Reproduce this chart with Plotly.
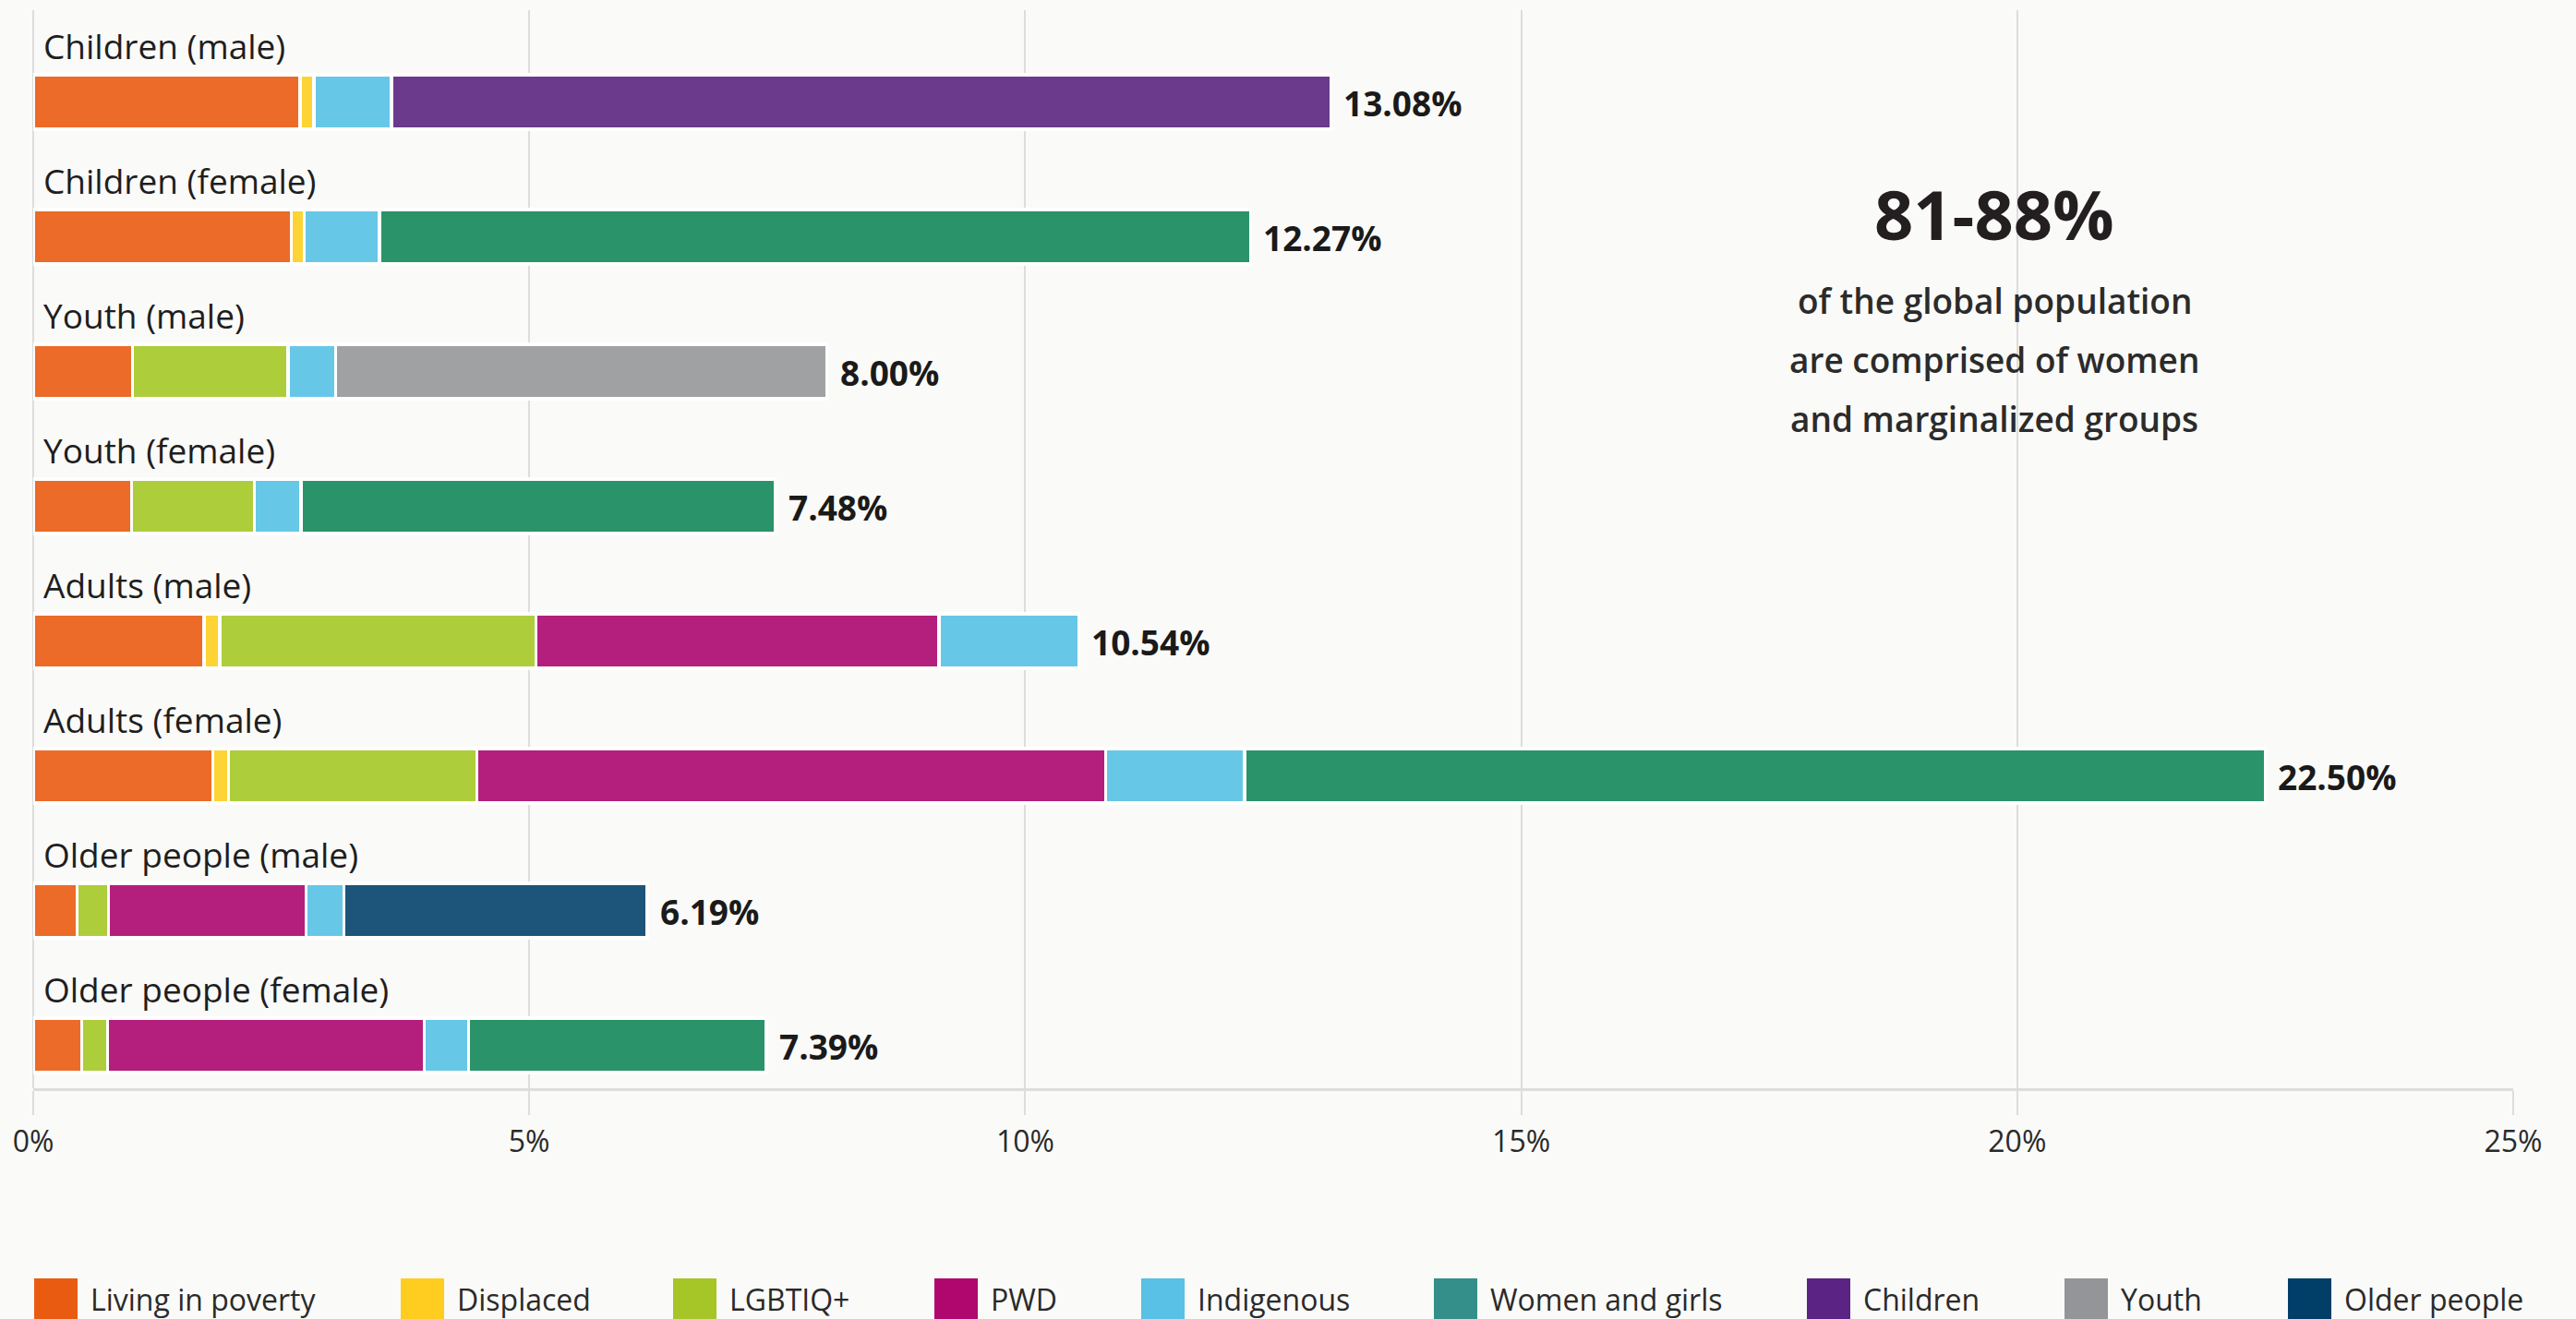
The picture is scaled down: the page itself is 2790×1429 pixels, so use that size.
import plotly.graph_objects as go

# ---------------- data ----------------
categories = ["Children (male)", "Children (female)", "Youth (male)", "Youth (female)",
              "Adults (male)", "Adults (female)", "Older people (male)", "Older people (female)"]

series_names = ["Living in poverty", "Displaced", "LGBTIQ+", "PWD", "Indigenous",
                "Women and girls", "Children", "Youth", "Older people"]

living_in_poverty = [2.69, 2.60, 1.00, 0.99, 1.72, 1.81, 0.44, 0.49]
displaced         = [0.14, 0.13, None, None, 0.16, 0.16, None, None]
lgbtiq            = [None, None, 1.57, 1.24, 3.19, 2.50, 0.32, 0.26]
pwd               = [None, None, None, None, 4.06, 6.34, 1.99, 3.19]
indigenous        = [0.78, 0.76, 0.48, 0.47, 1.41, 1.40, 0.38, 0.45]
women_and_girls   = [None, 8.78, None, 4.78, None, 10.29, None, 3.00]
children          = [9.47, None, None, None, None, None, None, None]
youth             = [None, None, 4.95, None, None, None, None, None]
older_people      = [None, None, None, None, None, None, 3.06, None]

series_values = [living_in_poverty, displaced, lgbtiq, pwd, indigenous,
                 women_and_girls, children, youth, older_people]

x_tick_values = [0, 5, 10, 15, 20, 25]
x_tick_labels = ["0%", "5%", "10%", "15%", "20%", "25%"]

# ---------------- styles ----------------
bar_colors = ["#EC6B28", "#FDD335", "#ADCD3B", "#B41E7C", "#67C7E7",
              "#2A9369", "#6B3A8C", "#A0A1A3", "#1D5479"]
legend_colors = ["#EA5B12", "#FFCD1F", "#A6C526", "#B0076F", "#58C1E5",
                 "#348F8A", "#5B2484", "#949598", "#013F69"]

W, H = 2790, 1429
ML, MR, MT, MB = 36, 68, 11, 250
PW, PH = W - ML - MR, H - MT - MB
BG = "#FAFAF8"
FONT = "Open Sans"


def paper_x(px):
    return (px - ML) / PW


def paper_y(py):
    return (H - MB - py) / PH


fig = go.Figure()

for name, vals, col in zip(series_names, series_values, bar_colors):
    fig.add_trace(go.Bar(
        name=name, y=categories, x=vals, orientation="h",
        marker=dict(color=col, line=dict(color="#FFFFFF", width=3.5)),
        width=0.404, offset=-0.02, showlegend=False,
    ))

annotations = []
band = PH / len(categories)
# category labels above bars
for cat in categories:
    annotations.append(dict(
        x=0, y=cat, xref="x", yref="y", text=cat, showarrow=False,
        xanchor="left", yanchor="middle", xshift=9, yshift=0.226 * band + 2,
        font=dict(family=FONT, size=37, color="#1E1E1E"),
    ))

# totals at bar ends
for i, cat in enumerate(categories):
    total = sum(v[i] for v in series_values if v[i] is not None)
    annotations.append(dict(
        x=total, y=cat, xref="x", yref="y", text=f"<b>{total:.2f}%</b>",
        showarrow=False, xanchor="left", yanchor="middle", xshift=12,
        yshift=-0.182 * band - 1,
        font=dict(family=FONT, size=37, color="#1A1A1A"),
    ))

# call-out text
annotations.append(dict(
    x=paper_x(2160), y=paper_y(232), xref="paper", yref="paper",
    text="<b>81-88%</b>", showarrow=False, xanchor="center", yanchor="middle",
    font=dict(family=FONT, size=74, color="#231F20"),
))
for line, py in zip(["of the global population", "are comprised of women",
                     "and marginalized groups"], [325, 389, 453]):
    annotations.append(dict(
        x=paper_x(2160), y=paper_y(py), xref="paper", yref="paper",
        text=line, showarrow=False, xanchor="center", yanchor="middle",
        font=dict(family=FONT, size=37, color="#2B2B2B", weight=600),
    ))

# custom legend
legend_box_x = [37, 434, 729, 1012, 1236, 1553, 1957, 2236, 2478]
shapes = []
for name, col, lx in zip(series_names, legend_colors, legend_box_x):
    shapes.append(dict(
        type="rect", xref="paper", yref="paper",
        x0=paper_x(lx), x1=paper_x(lx + 47), y0=paper_y(1385), y1=paper_y(1460),
        fillcolor=col, line=dict(width=0), layer="above",
    ))
    annotations.append(dict(
        x=paper_x(lx + 59), y=paper_y(1407), xref="paper", yref="paper",
        text=name, showarrow=False, xanchor="left", yanchor="middle",
        font=dict(family=FONT, size=32, color="#2A2A2A"),
    ))

fig.update_layout(
    width=W, height=H, barmode="stack",
    paper_bgcolor=BG, plot_bgcolor=BG,
    margin=dict(l=ML, r=MR, t=MT, b=MB, pad=0),
    font=dict(family=FONT, color="#2A2A2A"),
    annotations=annotations, shapes=shapes,
    xaxis=dict(
        range=[0, 25], tickvals=x_tick_values, ticktext=x_tick_labels,
        showgrid=True, gridcolor="#DDDDDD", gridwidth=2,
        zeroline=True, zerolinecolor="#DDDDDD", zerolinewidth=2,
        showline=True, linecolor="#DDDDDD", linewidth=3,
        ticks="outside", ticklen=26, tickcolor="#DDDDDD", tickwidth=2,
        tickfont=dict(family=FONT, size=32, color="#2A2A2A"),
        ticklabelstandoff=2, fixedrange=True,
    ),
    yaxis=dict(
        type="category", categoryorder="array", categoryarray=categories,
        range=[len(categories) - 0.5, -0.5], showticklabels=False,
        showgrid=False, zeroline=False, showline=False, fixedrange=True,
    ),
)

fig.write_html("out.html")
